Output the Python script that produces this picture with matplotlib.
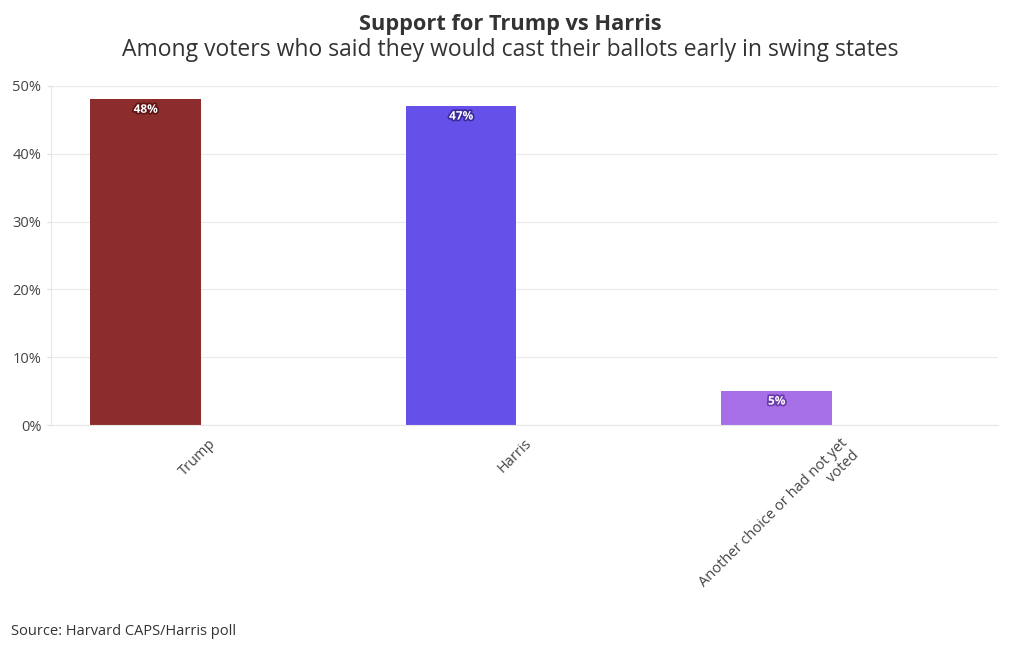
import numpy as np
import matplotlib.pyplot as plt
import matplotlib.patheffects as pe
from matplotlib.ticker import FuncFormatter

plt.rcParams['font.family'] = ['Open Sans', 'DejaVu Sans']

categories = ['Trump', 'Harris', 'Another choice or had not yet\nvoted']
values = [48, 47, 5]
colors = ['#8b2d2d', '#6551e9', '#a66fe8']
edge_dark = ['#5e1414', '#3a2a9a', '#6a3aa8']

x = np.arange(len(categories))

fig = plt.figure(figsize=(10.2, 6.5), dpi=100)
ax = fig.add_axes([0.05, 0.346, 0.928, 0.522])

ax.bar(x, values, width=0.35, color=colors)
for xi, v, d in zip(x, values, edge_dark):
    t = ax.text(xi, v - 0.5, f'{v}%', ha='center', va='top', color='white',
                fontsize=8.5, fontweight='bold')
    t.set_path_effects([pe.withStroke(linewidth=2.5, foreground=d)])

ax.set_xlim(-0.30, 2.70)
ax.set_ylim(0, 50)
ax.set_yticks([0, 10, 20, 30, 40, 50])
ax.yaxis.set_major_formatter(FuncFormatter(lambda v, p: f'{v:.0f}%'))
ax.set_xticks(x + 0.2)
ax.set_xticklabels(categories, rotation=45, ha='right', rotation_mode='anchor',
                   fontsize=10.5, color='#444444', multialignment='right')
ax.tick_params(axis='x', length=0, pad=8)
ax.tick_params(axis='y', length=3, color='#dddddd', labelsize=10.5,
               labelcolor='#444444', pad=4)
ax.grid(axis='y', color='#ebebeb', linewidth=0.8)
ax.set_axisbelow(True)
for s in ['top', 'right']:
    ax.spines[s].set_visible(False)
ax.spines['left'].set_color('#e6e6e6')
ax.spines['bottom'].set_color('#e6e6e6')

fig.text(0.5, 0.963, 'Support for Trump vs Harris', ha='center', va='center',
         fontsize=15.7, fontweight='bold', color='#333333')
fig.text(0.5, 0.923, 'Among voters who said they would cast their ballots early in swing states',
         ha='center', va='center', fontsize=16.5, color='#333333')
fig.text(0.011, 0.029, 'Source: Harvard CAPS/Harris poll', ha='left', va='center',
         fontsize=10.5, color='#333333')

fig.savefig('out.png', dpi=100)
